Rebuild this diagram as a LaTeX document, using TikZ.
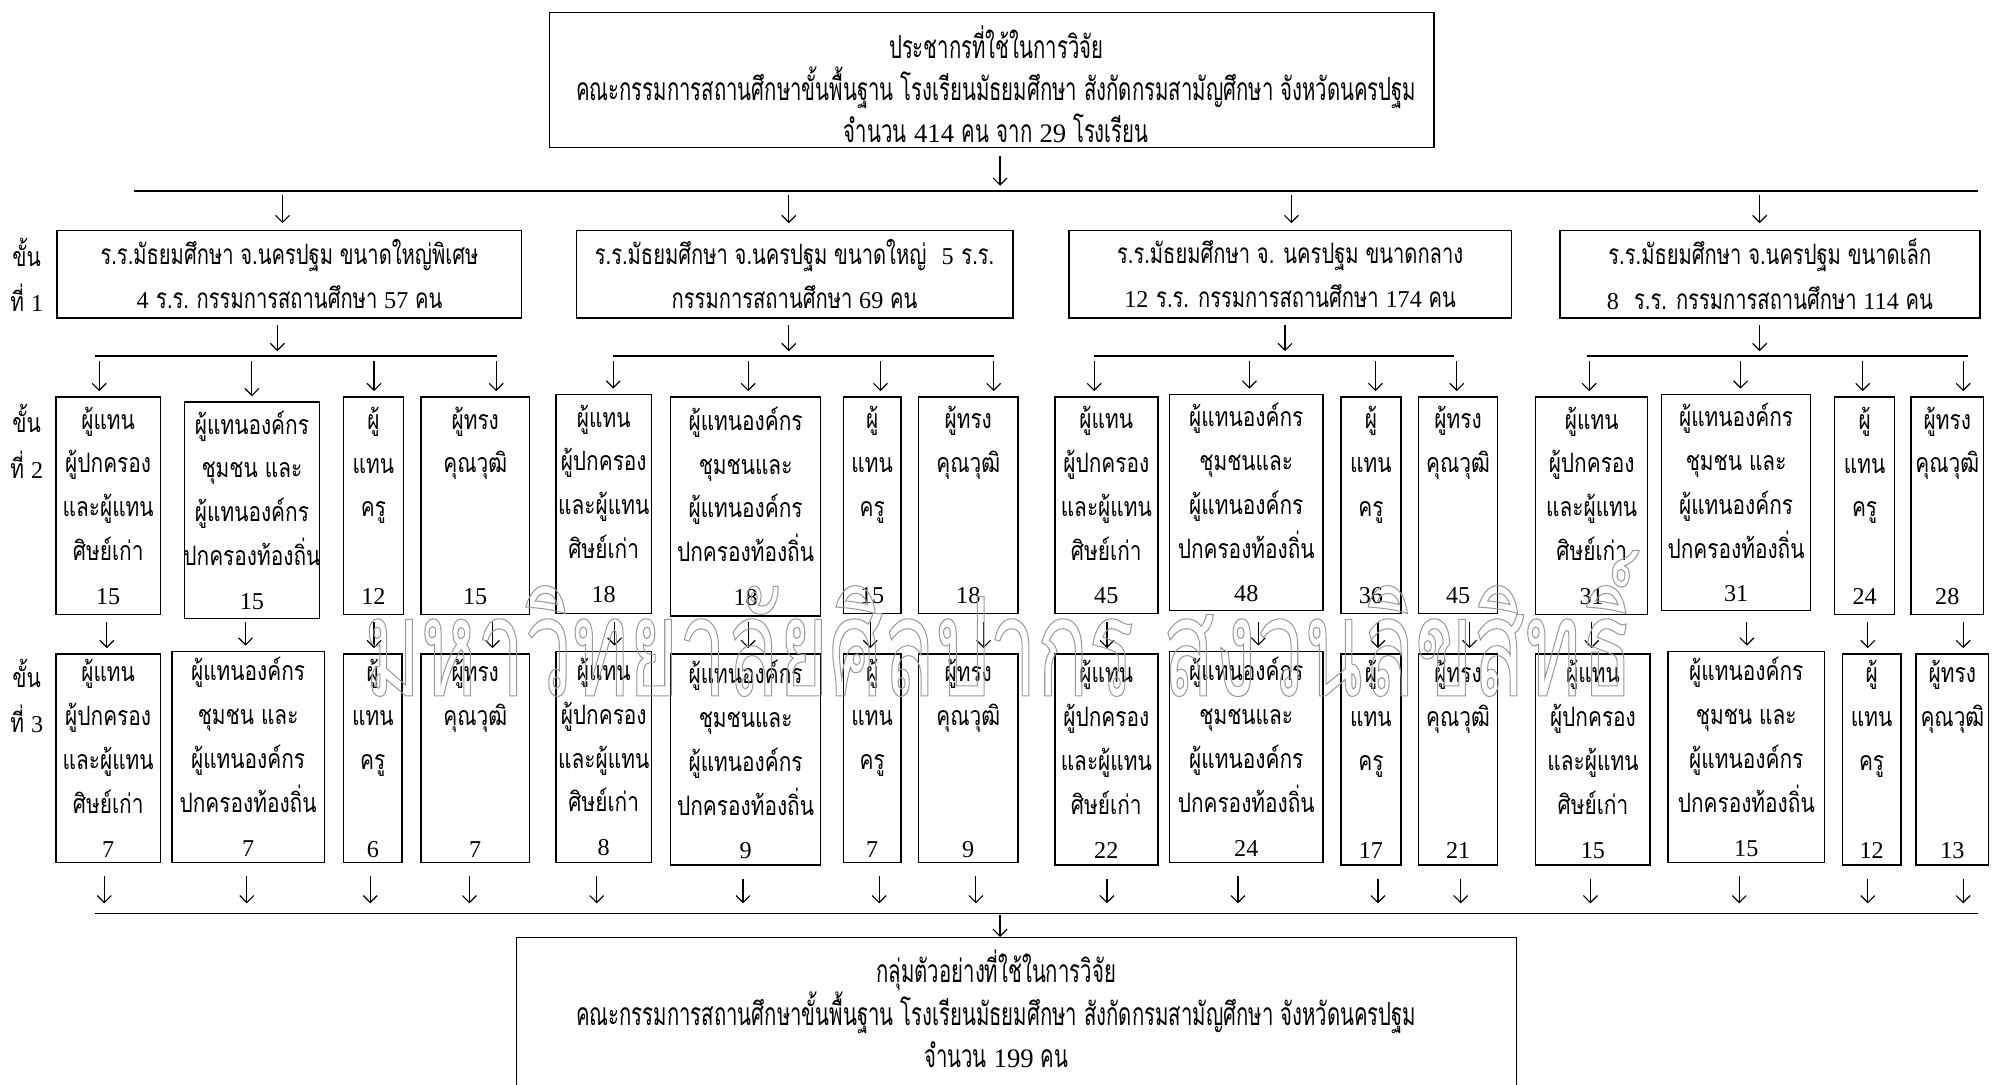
\documentclass[tikz,border=0pt]{standalone}
\usepackage{fontspec}
\setmainfont{Liberation Serif}
\newfontfamily\thL[Script=Thai,FakeStretch=0.78]{Loma}
\newfontfamily\thM[Script=Thai,FakeStretch=0.72]{Loma}
\newfontfamily\thT[Script=Thai,FakeStretch=0.64]{Loma}
\newfontfamily\thW[Script=Thai,FakeStretch=0.62]{Loma}
\usetikzlibrary{arrows.meta}
\newcommand\nm[1]{{\normalfont\fontsize{19}{19}\selectfont #1}}
\newcommand\nmT[1]{{\normalfont\fontsize{21}{21}\selectfont #1}}
\newcommand\E{\mbox{}}
\newcommand\gapsp{\hspace{6pt}}
\newcommand\mybox[7][tx]{%
  \node[box,minimum width={#5-#3},minimum height={#6-#4}] (#2) at ({(#3+#5)/2},{(#4+#6)/2}) {};
  \node[#1] (#2t) at (#2.center) {#7};}
\newcommand\pA{ผู้แทน\\ผู้ปกครอง\\และผู้แทน\\ศิษย์เก่า}
\newcommand\pBa{ผู้แทนองค์กร\\ชุมชน และ\\ผู้แทนองค์กร\\ปกครองท้องถิ่น}
\newcommand\pBb{ผู้แทนองค์กร\\ชุมชนและ\\ผู้แทนองค์กร\\ปกครองท้องถิ่น}
\newcommand\pC{ผู้\\แทน\\ครู\\\E}
\newcommand\pD{ผู้ทรง\\คุณวุฒิ\\\E\\\E}
\begin{document}
\begin{tikzpicture}[x=1pt,y=-1pt,
  box/.style={draw,line width=1.2pt,inner sep=0pt},
  arr/.style={-{Straight Barb[length=5.5pt,width=11pt]},line width=0.9pt},
  ln/.style={line width=1.3pt},
  tx/.style={inner sep=0pt,align=center,font=\thL\fontsize{21}{34.5}\selectfont},
  t1/.style={inner sep=0pt,align=center,font=\thM\fontsize{22}{35}\selectfont},
  tl/.style={inner sep=0pt,align=center,font=\thL\fontsize{21}{36}\selectfont},
  tt/.style={inner sep=0pt,align=center,font=\thT\fontsize{25}{33}\selectfont}]
\clip (0,0) rectangle (1568,852);
\fill[white] (0,0) rectangle (1568,852);
% top box
\node[box,minimum width=695,minimum height=106] (top) at (779.5,63) {};
\node[tt] (topt) at (783,66) {ประชากรที่ใช้ในการวิจัย\\คณะกรรมการสถานศึกษาขั้นพื้นฐาน โรงเรียนมัธยมศึกษา สังกัดกรมสามัญศึกษา จังหวัดนครปฐม\\จำนวน\gapsp\nmT{414}\gapsp คน\gapsp จาก \nmT{29} โรงเรียน};
% level labels
\node[tl] (lab1) at (21,216) {ขั้น\\ที่ \nm{1}};
\node[tl] (lab2) at (21,347) {ขั้น\\ที่ \nm{2}};
\node[tl] (lab3) at (21,547) {ขั้น\\ที่ \nm{3}};
% level 1
\mybox[t1]{A}{45}{181}{410}{250}{ร.ร.มัธยมศึกษา จ.นครปฐม ขนาดใหญ่พิเศษ\\\nm{4}\gapsp ร.ร.\gapsp กรรมการสถานศึกษา \nm{57} คน}
\mybox[t1]{B}{453}{181}{796}{250}{ร.ร.มัธยมศึกษา จ.นครปฐม ขนาดใหญ่\gapsp\gapsp\nm{5}\gapsp ร.ร.\\กรรมการสถานศึกษา \nm{69} คน}
\mybox[t1]{C}{840}{181}{1188}{250}{ร.ร.มัธยมศึกษา จ. นครปฐม ขนาดกลาง\\\nm{12}\gapsp ร.ร. กรรมการสถานศึกษา \nm{174} คน}
\mybox[t1]{D}{1226}{181}{1556}{250}{ร.ร.มัธยมศึกษา จ.นครปฐม ขนาดเล็ก\\\nm{8}\gapsp\gapsp ร.ร. กรรมการสถานศึกษา \nm{114} คน}
% top connectors
\coordinate (h0) at (786,150);
\coordinate (hL) at (105,150);
\coordinate (hR) at (1555,150);
\draw[arr] ([yshift=-6]top.south -| h0) -- ([yshift=4]h0);
\draw[ln] (hL) -- (hR);
\foreach \x/\n in {222/A,620/B,1015/C,1383/D}{
  \coordinate (t\n) at (\x,153);
  \draw[arr] (t\n) -- ([yshift=5]t\n |- \n.north);
}
% level 2 boxes
\mybox{a1}{44}{312}{126}{483}{\pA\\\nm{15}}
\mybox{a2}{145}{316}{251}{486}{\pBa\\\nm{15}}
\mybox{a3}{270}{312}{317}{483}{\pC\\\nm{12}}
\mybox{a4}{331}{312}{416}{483}{\pD\\\nm{15}}
\mybox{b1}{437}{310}{512}{482}{\pA\\\nm{18}}
\mybox{b2}{527}{312}{645}{484}{\pBb\\\nm{18}}
\mybox{b3}{663}{312}{708}{482}{\pC\\\nm{15}}
\mybox{b4}{722}{312}{800}{482}{\pD\\\nm{18}}
\mybox{c1}{829}{312}{910}{482}{\pA\\\nm{45}}
\mybox{c2}{919}{310}{1040}{480}{\pBb\\\nm{48}}
\mybox{c3}{1054}{312}{1101}{482}{\pC\\\nm{36}}
\mybox{c4}{1115}{312}{1177}{482}{\pD\\\nm{45}}
\mybox{d1}{1207}{312}{1295}{483}{\pA\\\nm{31}}
\mybox{d2}{1306}{310}{1423}{480}{\pBa\\\nm{31}}
\mybox{d3}{1442}{312}{1489}{483}{\pC\\\nm{24}}
\mybox{d4}{1502}{312}{1559}{483}{\pD\\\nm{28}}
% level 3 boxes
\mybox{e1}{44}{514}{126}{678}{\pA\\\nm{7}}
\mybox{e2}{135}{512}{255}{678}{\pBa\\\nm{7}}
\mybox{e3}{270}{514}{316}{678}{\pC\\\nm{6}}
\mybox{e4}{331}{514}{416}{678}{\pD\\\nm{7}}
\mybox{f1}{437}{512}{512}{678}{\pA\\\nm{8}}
\mybox{f2}{527}{514}{645}{680}{\pBb\\\nm{9}}
\mybox{f3}{663}{514}{708}{678}{\pC\\\nm{7}}
\mybox{f4}{722}{514}{800}{678}{\pD\\\nm{9}}
\mybox{g1}{829}{514}{910}{680}{\pA\\\nm{22}}
\mybox{g2}{919}{512}{1040}{678}{\pBb\\\nm{24}}
\mybox{g3}{1054}{514}{1101}{680}{\pC\\\nm{17}}
\mybox{g4}{1115}{514}{1177}{680}{\pD\\\nm{21}}
\mybox{k1}{1207}{514}{1297}{680}{\pA\\\nm{15}}
\mybox{k2}{1311}{512}{1434}{678}{\pBa\\\nm{15}}
\mybox{k3}{1448}{514}{1494}{680}{\pC\\\nm{12}}
\mybox{k4}{1506}{514}{1563}{680}{\pD\\\nm{13}}
% level1 -> level2 connectors
\foreach \n/\x/\l/\r/\p/\q/\s/\t/\lo in {A/218/75/391/78/198/294/390/a,B/620/482/781/482/588/692/781/b,C/1010/860/1143/860/982/1081/1145/c,D/1383/1247/1547/1249/1368/1464/1543/d}{
  \coordinate (m\n) at (\x,280);
  \draw[arr] ([yshift=-5]\n.south -| m\n) -- ([yshift=4]m\n);
  \draw[ln] (\l,280) coordinate (L\n) -- (\r,280) coordinate (R\n);
  \foreach \xx/\k in {\p/1,\s/3,\t/4,\q/2}{
    \coordinate (u\n\k) at (\xx,284);
    \draw[arr] (u\n\k) -- ([yshift=4]u\n\k |- \lo\k.north);
  }
}
% level2 -> level3
\foreach \up/\dn/\x in {a1/e1/84,a2/e2/193,a3/e3/294,a4/e4/387,b1/f1/483,b2/f2/588,b3/f3/684,b4/f4/773,c1/g1/870,c2/g2/989,c3/g3/1083,c4/g4/1155,d1/k1/1251,d2/k2/1373,d3/k3/1468,d4/k4/1543}{
  \coordinate (v\up) at (\x,489);
  \draw[arr] (v\up) -- ([yshift=4]v\up |- \dn.north);
}
% bottom line
\coordinate (bl) at (75,718);
\coordinate (br) at (1555,718);
\draw[ln] (bl) -- (br);
\foreach \b/\x in {e1/82,e2/194,e3/291,e4/369,f1/469,f2/584,f3/691,f4/767,g1/870,g2/973,g3/1083,g4/1148,k1/1250,k2/1367,k3/1468,k4/1543}{
  \coordinate (w\b) at (\x,710);
  \draw[arr] (w\b |- \b.south) ++(0,10) -- (w\b);
}
% bottom box
\node[box,minimum width=786,minimum height=140] (bot) at (799,807) {};
\node[tt] (bott) at (783,793) {กลุ่มตัวอย่างที่ใช้ในการวิจัย\\คณะกรรมการสถานศึกษาขั้นพื้นฐาน โรงเรียนมัธยมศึกษา สังกัดกรมสามัญศึกษา จังหวัดนครปฐม\\จำนวน \nmT{199} คน};
\coordinate (b0) at (786,719);
\draw[arr] (b0) -- (b0 |- bot.north);
% watermark
\node[inner sep=0pt,font=\thW\fontsize{108}{108}\selectfont] (wm) at (785,490) {\special{pdf:literal direct 1 Tr 0.8 w 0.6 G}มหาวิทยาลัยศิลปากร สงวนลิขสิทธิ์\special{pdf:literal direct 0 Tr}};
\end{tikzpicture}
\end{document}
